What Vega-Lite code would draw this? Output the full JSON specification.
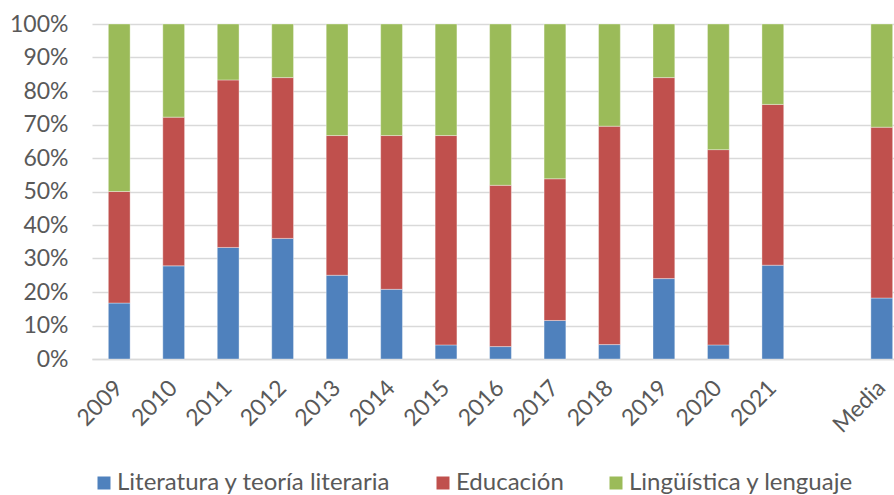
{
  "$schema": "https://vega.github.io/schema/vega-lite/v6.json",
  "width": 802,
  "height": 335,
  "autosize": {"type": "none"},
  "padding": {"left": 92, "top": 24, "right": 0, "bottom": 136},
  "background": "white",
  "config": {
    "view": {"stroke": null},
    "font": "Lato",
    "axis": {"labelFont": "Lato", "labelColor": "#595959", "labelFontSize": 23},
    "legend": {"labelFont": "Lato", "labelColor": "#595959", "labelFontSize": 24}
  },
  "data": {
    "values": [
      {"year": "2009", "area": "Literatura y teoría literaria", "o": 1, "v": 16.7},
      {"year": "2009", "area": "Educación", "o": 2, "v": 33.3},
      {"year": "2009", "area": "Lingüística y lenguaje", "o": 3, "v": 50.0},
      {"year": "2010", "area": "Literatura y teoría literaria", "o": 1, "v": 27.8},
      {"year": "2010", "area": "Educación", "o": 2, "v": 44.4},
      {"year": "2010", "area": "Lingüística y lenguaje", "o": 3, "v": 27.8},
      {"year": "2011", "area": "Literatura y teoría literaria", "o": 1, "v": 33.3},
      {"year": "2011", "area": "Educación", "o": 2, "v": 50.0},
      {"year": "2011", "area": "Lingüística y lenguaje", "o": 3, "v": 16.7},
      {"year": "2012", "area": "Literatura y teoría literaria", "o": 1, "v": 36.0},
      {"year": "2012", "area": "Educación", "o": 2, "v": 48.0},
      {"year": "2012", "area": "Lingüística y lenguaje", "o": 3, "v": 16.0},
      {"year": "2013", "area": "Literatura y teoría literaria", "o": 1, "v": 25.0},
      {"year": "2013", "area": "Educación", "o": 2, "v": 41.7},
      {"year": "2013", "area": "Lingüística y lenguaje", "o": 3, "v": 33.3},
      {"year": "2014", "area": "Literatura y teoría literaria", "o": 1, "v": 20.8},
      {"year": "2014", "area": "Educación", "o": 2, "v": 45.9},
      {"year": "2014", "area": "Lingüística y lenguaje", "o": 3, "v": 33.3},
      {"year": "2015", "area": "Literatura y teoría literaria", "o": 1, "v": 4.2},
      {"year": "2015", "area": "Educación", "o": 2, "v": 62.5},
      {"year": "2015", "area": "Lingüística y lenguaje", "o": 3, "v": 33.3},
      {"year": "2016", "area": "Literatura y teoría literaria", "o": 1, "v": 3.7},
      {"year": "2016", "area": "Educación", "o": 2, "v": 48.15},
      {"year": "2016", "area": "Lingüística y lenguaje", "o": 3, "v": 48.15},
      {"year": "2017", "area": "Literatura y teoría literaria", "o": 1, "v": 11.5},
      {"year": "2017", "area": "Educación", "o": 2, "v": 42.3},
      {"year": "2017", "area": "Lingüística y lenguaje", "o": 3, "v": 46.2},
      {"year": "2018", "area": "Literatura y teoría literaria", "o": 1, "v": 4.3},
      {"year": "2018", "area": "Educación", "o": 2, "v": 65.2},
      {"year": "2018", "area": "Lingüística y lenguaje", "o": 3, "v": 30.5},
      {"year": "2019", "area": "Literatura y teoría literaria", "o": 1, "v": 24.0},
      {"year": "2019", "area": "Educación", "o": 2, "v": 60.0},
      {"year": "2019", "area": "Lingüística y lenguaje", "o": 3, "v": 16.0},
      {"year": "2020", "area": "Literatura y teoría literaria", "o": 1, "v": 4.2},
      {"year": "2020", "area": "Educación", "o": 2, "v": 58.3},
      {"year": "2020", "area": "Lingüística y lenguaje", "o": 3, "v": 37.5},
      {"year": "2021", "area": "Literatura y teoría literaria", "o": 1, "v": 28.0},
      {"year": "2021", "area": "Educación", "o": 2, "v": 48.0},
      {"year": "2021", "area": "Lingüística y lenguaje", "o": 3, "v": 24.0},
      {"year": "Media", "area": "Literatura y teoría literaria", "o": 1, "v": 18.2},
      {"year": "Media", "area": "Educación", "o": 2, "v": 51.0},
      {"year": "Media", "area": "Lingüística y lenguaje", "o": 3, "v": 30.8}
    ]
  },
  "mark": {"type": "bar", "stroke": "white", "strokeWidth": 0.6, "strokeOpacity": 0.6},
  "encoding": {
    "x": {
      "field": "year",
      "type": "nominal",
      "title": null,
      "scale": {
        "domain": ["2009","2010","2011","2012","2013","2014","2015","2016","2017","2018","2019","2020","2021"," ","Media"],
        "range": [0, 817],
        "paddingInner": 0.6,
        "paddingOuter": 0.3
      },
      "axis": {
        "labelAngle": -45,
        "labelFontSize": 23,
        "ticks": false,
        "domain": true,
        "domainColor": "#D9D9D9",
        "domainWidth": 1.5,
        "labelPadding": 25,
        "labelAlign": "right",
        "labelBaseline": "middle",
        "labelOverlap": false
      }
    },
    "y": {
      "field": "v",
      "type": "quantitative",
      "stack": "normalize",
      "title": null,
      "scale": {"domain": [0, 1]},
      "axis": {
        "format": ".0%",
        "values": [0,0.1,0.2,0.3,0.4,0.5,0.6,0.7,0.8,0.9,1],
        "labelOverlap": false,
        "ticks": false,
        "domain": false,
        "gridColor": "#D9D9D9",
        "gridWidth": 1.5,
        "labelPadding": 24
      }
    },
    "color": {
      "field": "area",
      "type": "nominal",
      "scale": {
        "domain": ["Literatura y teoría literaria", "Educación", "Lingüística y lenguaje"],
        "range": ["#4F81BD", "#C0504D", "#9BBB59"]
      },
      "legend": {
        "title": null,
        "orient": "none",
        "direction": "horizontal",
        "legendX": 0,
        "legendY": 447,
        "symbolType": "square",
        "symbolSize": 169,
        "symbolStrokeWidth": 0,
        "labelOffset": 1,
        "labelLimit": 0,
        "columnPadding": 40,
        "padding": 0
      }
    },
    "order": {"field": "o", "type": "quantitative"}
  }
}
